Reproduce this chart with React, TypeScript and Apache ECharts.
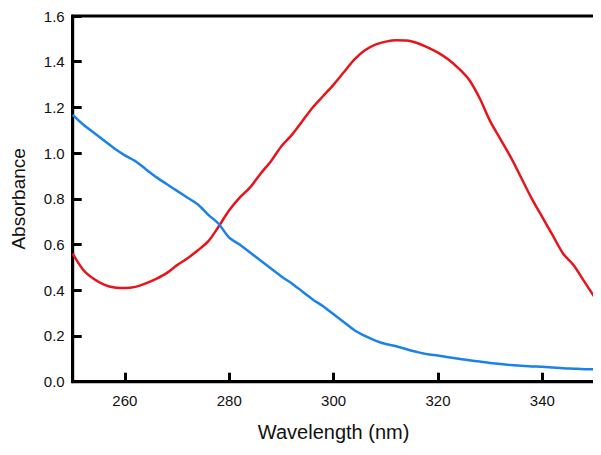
import React, { useEffect, useRef } from "react";
import * as echarts from "echarts";

const wavelengths = [
  250, 252, 254, 256, 258, 260, 262, 264, 266, 268, 270, 272, 274, 276, 278, 280,
  282, 284, 286, 288, 290, 292, 294, 296, 298, 300, 302, 304, 306, 308, 310, 312,
  314, 316, 318, 320, 322, 324, 326, 328, 330, 332, 334, 336, 338, 340, 342, 344,
  346, 348, 350,
];

const redAbsorbance = [
  0.56, 0.49, 0.45, 0.425, 0.412, 0.41, 0.415, 0.43, 0.45, 0.475, 0.51, 0.54, 0.575,
  0.615, 0.68, 0.75, 0.805, 0.85, 0.91, 0.965, 1.03, 1.08, 1.14, 1.2, 1.25, 1.3, 1.355,
  1.41, 1.45, 1.475, 1.488, 1.494, 1.493, 1.482, 1.463, 1.44, 1.41, 1.37, 1.32, 1.24,
  1.14, 1.06, 0.98, 0.89, 0.8, 0.72, 0.64, 0.56, 0.51, 0.44, 0.37,
];

const blueAbsorbance = [
  1.167, 1.125, 1.09, 1.055, 1.02, 0.99, 0.965, 0.93, 0.895, 0.865, 0.835, 0.805,
  0.775, 0.73, 0.69, 0.63, 0.6, 0.565, 0.53, 0.495, 0.46, 0.43, 0.395, 0.36, 0.33,
  0.295, 0.26, 0.225, 0.2, 0.18, 0.165, 0.155, 0.142, 0.13, 0.12, 0.115, 0.107, 0.1,
  0.094, 0.088, 0.082, 0.077, 0.073, 0.07, 0.067, 0.065, 0.062, 0.059, 0.057, 0.055,
  0.054,
];

const xTicks = [260, 280, 300, 320, 340];

const FONT = "Liberation Sans";
const TICK_LEN = 9;

export default function App() {
  const ref = useRef<HTMLDivElement>(null);

  useEffect(() => {
    if (!ref.current) return;
    const chart = echarts.init(ref.current, null, { renderer: "svg" });
    const red = wavelengths.map((w, i) => [w, redAbsorbance[i]]);
    const blue = wavelengths.map((w, i) => [w, blueAbsorbance[i]]);

    chart.setOption({
      animation: false,
      grid: {
        left: 72.7,
        right: 6.5,
        top: 16,
        bottom: 73.3,
        show: true,
        borderColor: "#000",
        borderWidth: 3,
      },
      xAxis: {
        type: "value",
        min: 250,
        max: 350,
        name: "Wavelength (nm)",
        nameLocation: "middle",
        nameGap: 40,
        nameTextStyle: { fontFamily: FONT, fontSize: 20, color: "#111" },
        axisLine: { show: true, onZero: false, lineStyle: { color: "#000", width: 3 } },
        axisTick: {
          show: true,
          inside: true,
          length: TICK_LEN,
          customValues: xTicks,
          lineStyle: { color: "#000", width: 3 },
        },
        axisLabel: {
          customValues: xTicks,
          fontFamily: FONT,
          fontSize: 15,
          color: "#111",
          margin: 11,
        },
        splitLine: { show: false },
      },
      yAxis: {
        type: "value",
        min: 0,
        max: 1.6,
        interval: 0.2,
        name: "Absorbance",
        nameLocation: "middle",
        nameGap: 45,
        nameTextStyle: { fontFamily: FONT, fontSize: 19, color: "#111" },
        axisLine: { show: true, onZero: false, lineStyle: { color: "#000", width: 3 } },
        axisTick: {
          show: true,
          inside: true,
          length: TICK_LEN,
          lineStyle: { color: "#000", width: 3 },
        },
        axisLabel: {
          fontFamily: FONT,
          fontSize: 15,
          color: "#111",
          margin: 8,
          formatter: (v: number) => v.toFixed(1),
        },
        splitLine: { show: false },
      },
      series: [
        {
          type: "line",
          data: red,
          showSymbol: false,
          smooth: 0.3,
          lineStyle: { color: "#e8141b", width: 2.5 },
        },
        {
          type: "line",
          data: blue,
          showSymbol: false,
          smooth: 0.3,
          lineStyle: { color: "#1a82e8", width: 2.5 },
        },
      ],
    });
    return () => chart.dispose();
  }, []);

  return <div ref={ref} style={{ width: 601, height: 455, margin: -8 }} />;
}
